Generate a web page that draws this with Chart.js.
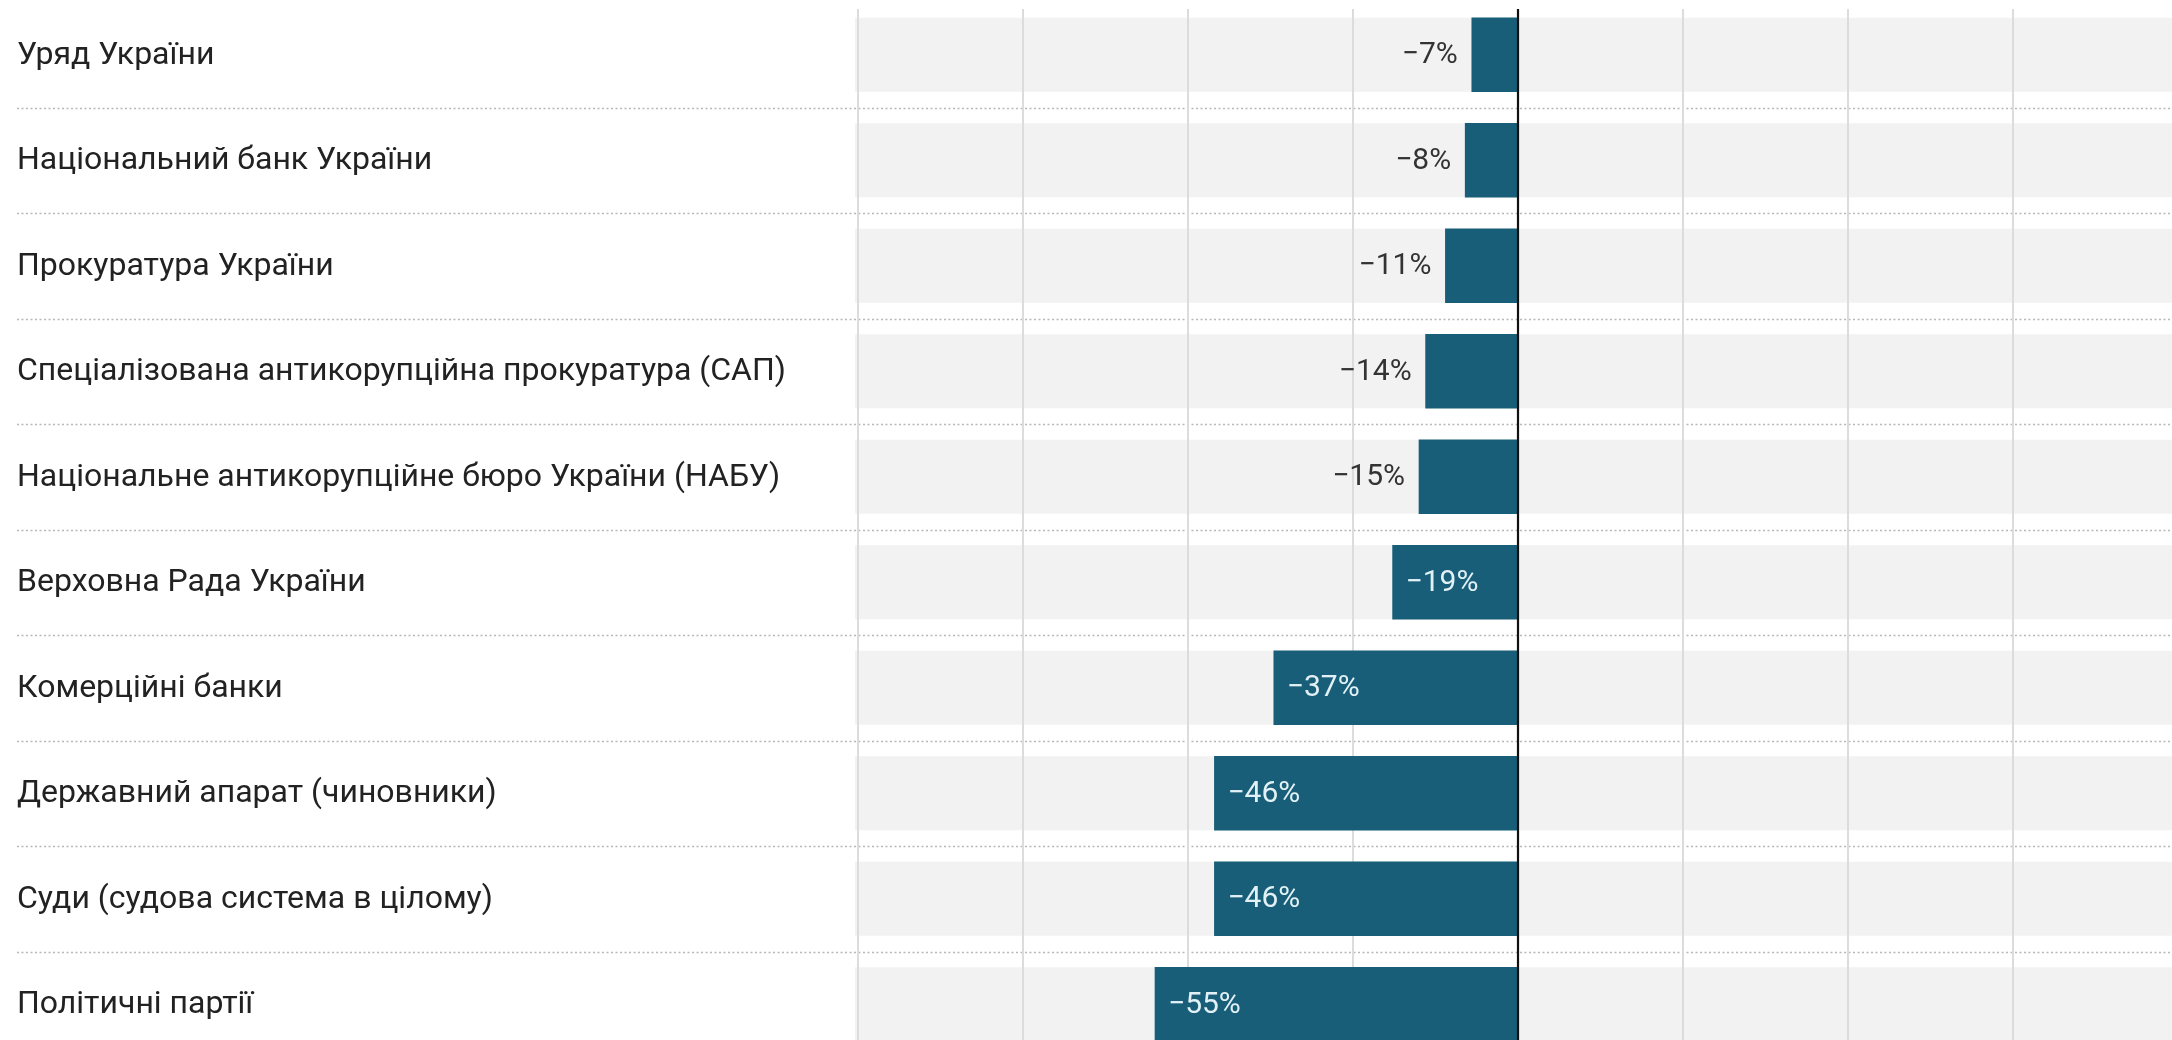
<!DOCTYPE html>
<html>
<head>
<meta charset="utf-8">
<script src="https://cdn.jsdelivr.net/npm/chart.js@4.4.1/dist/chart.umd.min.js"></script>
<style>
  html, body { margin: 0; padding: 0; background: #ffffff; overflow: hidden; width: 2172px; height: 1040px; }
  #wrap { position: absolute; left: 0; top: 0; width: 2180px; height: 1060px; }
  canvas { display: block; }
</style>
</head>
<body>
<div id="wrap"><canvas id="c" width="2180" height="1060"></canvas></div>
<script>
const categories = [
  "Уряд України",
  "Національний банк України",
  "Прокуратура України",
  "Спеціалізована антикорупційна прокуратура (САП)",
  "Національне антикорупційне бюро України (НАБУ)",
  "Верховна Рада України",
  "Комерційні банки",
  "Державний апарат (чиновники)",
  "Суди (судова система в цілому)",
  "Політичні партії"
];
const values = [-7, -8, -11, -14, -15, -19, -37, -46, -46, -55];
const axisMin = -100;
const axisMax = 100;
const axisStep = 25;

const BAR_COLOR = "#195e79";
const BAND_COLOR = "#f2f2f2";
const BAR_THICK = 74;

const decorPlugin = {
  id: "decor",
  beforeDraw(chart) {
    const ctx = chart.ctx;
    const area = chart.chartArea;
    const y = chart.scales.y;
    const x = chart.scales.x;
    ctx.save();
    ctx.fillStyle = BAND_COLOR;
    categories.forEach((c, i) => {
      const cy = y.getPixelForValue(i);
      ctx.fillRect(area.left - 3, cy - BAR_THICK / 2, chart.width - area.left + 3, BAR_THICK);
    });
    ctx.strokeStyle = "#b8b8b8";
    ctx.lineWidth = 1.5;
    ctx.setLineDash([2, 2.5]);
    for (let i = 0; i < categories.length - 1; i++) {
      const sy = (y.getPixelForValue(i) + y.getPixelForValue(i + 1)) / 2;
      ctx.beginPath();
      ctx.moveTo(17, Math.round(sy) + 0.5);
      ctx.lineTo(chart.width, Math.round(sy) + 0.5);
      ctx.stroke();
    }
    ctx.setLineDash([]);
    ctx.strokeStyle = "#dcdcdc";
    ctx.lineWidth = 2;
    x.ticks.forEach(t => {
      if (t.value === 0) return;
      const px = x.getPixelForValue(t.value);
      ctx.beginPath();
      ctx.moveTo(px, 9);
      ctx.lineTo(px, chart.height);
      ctx.stroke();
    });
    ctx.fillStyle = "#222222";
    ctx.font = "32px Roboto";
    ctx.textAlign = "left";
    ctx.textBaseline = "middle";
    categories.forEach((c, i) => {
      ctx.fillText(c, 17, y.getPixelForValue(i) + 1);
    });
    ctx.restore();
  },
  afterDatasetsDraw(chart) {
    const ctx = chart.ctx;
    const x = chart.scales.x;
    const meta = chart.getDatasetMeta(0);
    ctx.save();
    const zx = x.getPixelForValue(0);
    ctx.strokeStyle = "#111111";
    ctx.lineWidth = 2.2;
    ctx.beginPath();
    ctx.moveTo(zx, 9);
    ctx.lineTo(zx, chart.height);
    ctx.stroke();
    ctx.font = "30px Roboto";
    ctx.textBaseline = "middle";
    meta.data.forEach((bar, i) => {
      const v = values[i];
      const txt = "\u2212" + Math.abs(v) + "%";
      const left = Math.min(bar.x, bar.base);
      const w = Math.abs(bar.base - bar.x);
      const cy = bar.y + 1;
      if (w >= 110) {
        ctx.fillStyle = "#e2f1f6";
        ctx.textAlign = "left";
        ctx.fillText(txt, left + 13, cy);
      } else {
        ctx.fillStyle = "#333333";
        ctx.textAlign = "right";
        ctx.fillText(txt, left - 14, cy);
      }
    });
    ctx.restore();
  }
};

new Chart(document.getElementById("c"), {
  type: "bar",
  data: {
    labels: categories,
    datasets: [{
      data: values,
      backgroundColor: BAR_COLOR,
      borderWidth: 0,
      barThickness: BAR_THICK
    }]
  },
  options: {
    indexAxis: "y",
    responsive: false,
    devicePixelRatio: 1,
    animation: false,
    layout: { padding: { left: 858, right: 2, top: 2, bottom: 3 } },
    plugins: { legend: { display: false }, tooltip: { enabled: false } },
    scales: {
      x: {
        min: axisMin,
        max: axisMax,
        display: true,
        ticks: { display: false, stepSize: axisStep },
        grid: { display: false, drawTicks: false },
        border: { display: false }
      },
      y: {
        display: false,
        grid: { display: false }
      }
    }
  },
  plugins: [decorPlugin]
});
</script>
</body>
</html>
